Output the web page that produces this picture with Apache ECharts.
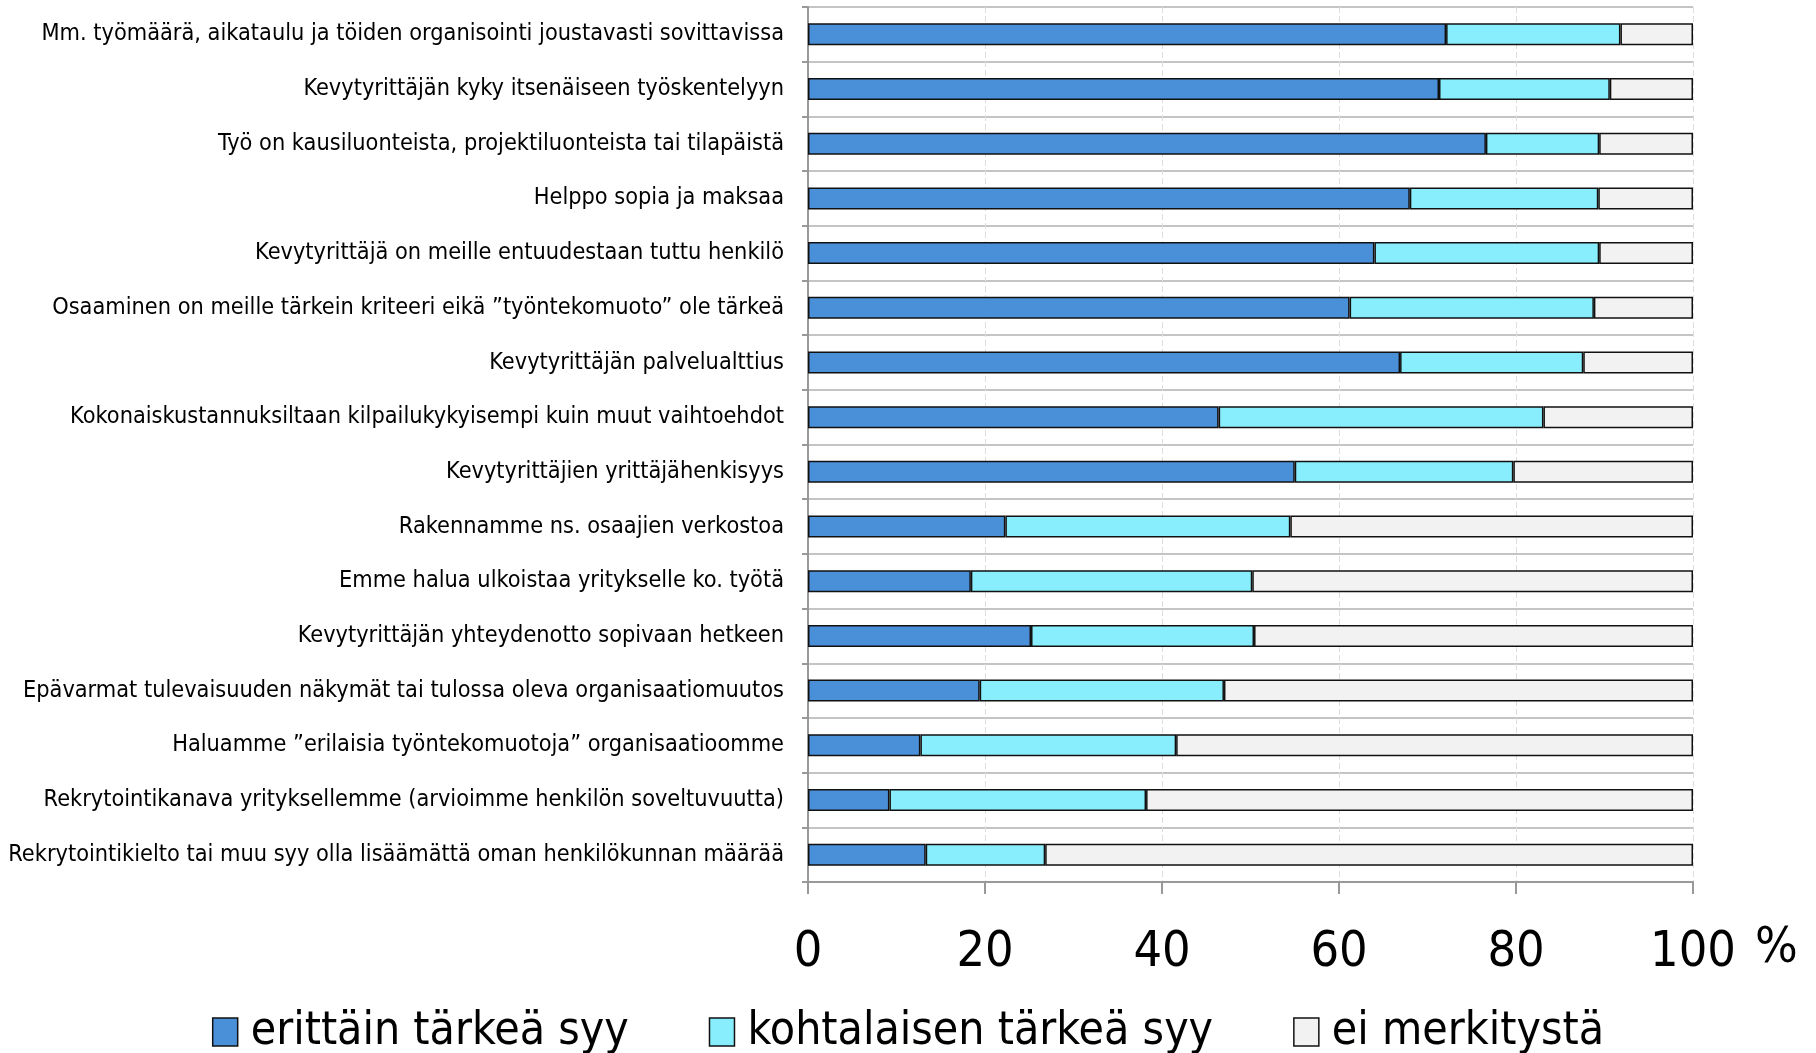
<!DOCTYPE html>
<html>
<head>
<meta charset="utf-8">
<script src="https://cdn.jsdelivr.net/npm/echarts@6/dist/echarts.min.js"></script>
<style>
  html, body { margin: 0; padding: 0; background: #fff; }
  #chart { width: 1816px; height: 1053px; }
</style>
</head>
<body>
<div id="chart"></div>
<script>
// syyt, ylhäältä alas
const categories = [
  'Mm. työmäärä, aikataulu ja töiden organisointi joustavasti sovittavissa',
  'Kevytyrittäjän kyky itsenäiseen työskentelyyn',
  'Työ on kausiluonteista, projektiluonteista tai tilapäistä',
  'Helppo sopia ja maksaa',
  'Kevytyrittäjä on meille entuudestaan tuttu henkilö',
  'Osaaminen on meille tärkein kriteeri eikä ”työntekomuoto” ole tärkeä',
  'Kevytyrittäjän palvelualttius',
  'Kokonaiskustannuksiltaan kilpailukykyisempi kuin muut vaihtoehdot',
  'Kevytyrittäjien yrittäjähenkisyys',
  'Rakennamme ns. osaajien verkostoa',
  'Emme halua ulkoistaa yritykselle ko. työtä',
  'Kevytyrittäjän yhteydenotto sopivaan hetkeen',
  'Epävarmat tulevaisuuden näkymät tai tulossa oleva organisaatiomuutos',
  'Haluamme ”erilaisia työntekomuotoja” organisaatioomme',
  'Rekrytointikanava yrityksellemme (arvioimme henkilön soveltuvuutta)',
  'Rekrytointikielto tai muu syy olla lisäämättä oman henkilökunnan määrää'
];

const erittainTarkea = [72.1, 71.3, 76.6, 68.0, 64.0, 61.2, 66.9, 46.4, 55.0, 22.3, 18.4, 25.2, 19.4, 12.7, 9.2, 13.3];
const kohtalainen    = [19.7, 19.3, 12.8, 21.3, 25.4, 27.6, 20.7, 36.7, 24.7, 32.2, 31.8, 25.2, 27.6, 28.9, 29.0, 13.5];
const eiMerkitysta   = [8.2, 9.4, 10.6, 10.7, 10.6, 11.2, 12.4, 16.9, 20.3, 45.5, 49.8, 49.6, 53.0, 58.4, 61.8, 73.2];

const xTicks = [0, 20, 40, 60, 80, 100];

const seriesNames = ['erittäin tärkeä syy', 'kohtalaisen tärkeä syy', 'ei merkitystä'];
const seriesColors = ['#4a90d9', '#88eefd', '#f2f2f2'];

const FONT = '"DejaVu Sans Condensed", "DejaVu Sans", sans-serif';

const chart = echarts.init(document.getElementById('chart'));

function barSeries(name, data, color) {
  return {
    name: name,
    type: 'bar',
    stack: 'total',
    barWidth: 22,
    data: data,
    itemStyle: {
      color: color,
      borderColor: '#111',
      borderWidth: 1.5
    },
    emphasis: { disabled: true }
  };
}

const option = {
  animation: false,
  textStyle: { fontFamily: FONT },
  grid: {
    left: 808,
    right: 123,
    top: 7,
    bottom: 171
  },
  legend: {
    left: 'center',
    top: 1004,
    itemWidth: 25,
    itemHeight: 28,
    itemGap: 80,
    icon: 'rect',
    itemStyle: { borderColor: '#111', borderWidth: 1.5 },
    textStyle: {
      fontFamily: FONT,
      fontSize: 46,
      color: '#000',
      padding: [0, 0, 0, 8]
    },
    data: seriesNames
  },
  xAxis: {
    type: 'value',
    min: 0,
    max: 100,
    interval: 20,
    name: '%',
    nameLocation: 'end',
    nameGap: 62,
    nameTextStyle: {
      fontFamily: FONT,
      fontSize: 50,
      color: '#000',
      verticalAlign: 'top',
      lineHeight: 134
    },
    axisLine: { show: true, lineStyle: { color: '#999', width: 2 } },
    axisTick: { show: true, length: 12, lineStyle: { color: '#999', width: 2 } },
    axisLabel: {
      fontFamily: FONT,
      fontSize: 50,
      color: '#000',
      margin: 46,
      formatter: function (v) { return xTicks.indexOf(v) >= 0 ? String(v) : ''; }
    },
    splitLine: {
      show: true,
      lineStyle: { color: '#dedede', width: 1, type: [6, 3] }
    }
  },
  yAxis: {
    type: 'category',
    inverse: true,
    data: categories,
    axisLine: { show: true, lineStyle: { color: '#999', width: 2 } },
    axisTick: { show: true, length: 6, lineStyle: { color: '#999', width: 2 } },
    axisLabel: {
      fontFamily: FONT,
      fontSize: 23.3,
      color: '#000',
      margin: 24
    },
    splitLine: {
      show: true,
      lineStyle: { color: '#c4c4c4', width: 2 }
    }
  },
  series: [
    barSeries(seriesNames[0], erittainTarkea, seriesColors[0]),
    barSeries(seriesNames[1], kohtalainen, seriesColors[1]),
    barSeries(seriesNames[2], eiMerkitysta, seriesColors[2])
  ]
};

chart.setOption(option);
</script>
</body>
</html>
